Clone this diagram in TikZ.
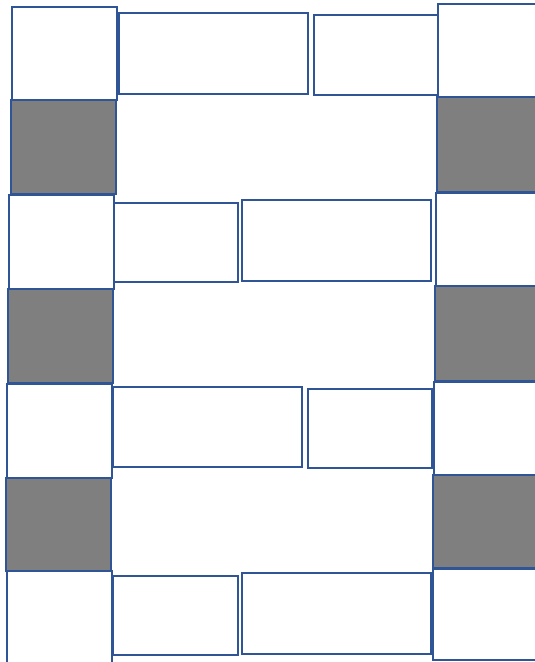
\documentclass[tikz,border=0pt]{standalone}
\usetikzlibrary{positioning}
\definecolor{WallBlue}{HTML}{2F5597}
\definecolor{WallGray}{HTML}{7F7F7F}
\tikzset{
  brick/.style={
    draw=WallBlue,
    fill=white,
    line width=2pt,
    inner sep=0pt,
    outer sep=0pt,
    anchor=north west
  },
  darkbrick/.style={
    brick,
    line width=2.8pt,
    fill=WallGray
  },
  sidebrick/.style={brick,line width=2.8pt,minimum width=105pt},
  longbrick/.style={brick,minimum width=189pt,minimum height=81pt},
  shortbrick/.style={brick,minimum width=124pt,minimum height=80pt}
}

\begin{document}
\begin{tikzpicture}[x=1pt,y=-1pt]
    \useasboundingbox (0,0) rectangle (535,662);
    \clip (0,0) rectangle (535,662);
    % left column
    \node[sidebrick,minimum height=93pt] (left1) at (12,7) {};
    \node[sidebrick,darkbrick,minimum width=105pt,minimum height=94pt] (left2) at (11,100) {};
    \node[sidebrick,minimum height=94pt] (left3) at (9,195) {};
    \node[sidebrick,darkbrick,minimum width=105pt,minimum height=94pt] (left4) at (8,289) {};
    \node[sidebrick,minimum height=94pt] (left5) at (7,384) {};
    \node[sidebrick,darkbrick,minimum width=105pt,minimum height=93pt] (left6) at (6,478) {};
    \node[sidebrick,minimum height=100pt] (left7) at (7,571) {};
    % right column
    \node[sidebrick,minimum width=110pt,minimum height=93pt] (right1) at (438,4) {};
    \node[darkbrick,minimum width=110pt,minimum height=95pt] (right2) at (437,97) {};
    \node[sidebrick,minimum width=110pt,minimum height=93pt] (right3) at (436,193) {};
    \node[darkbrick,minimum width=110pt,minimum height=95pt] (right4) at (435,286) {};
    \node[sidebrick,minimum width=110pt,minimum height=94pt] (right5) at (434,382) {};
    \node[darkbrick,minimum width=110pt,minimum height=93pt] (right6) at (433,475) {};
    \node[sidebrick,minimum width=110pt,minimum height=91pt] (right7) at (433,569) {};
    % middle rows
    \node[longbrick] (row1long) at (119,13) {};
    \node[shortbrick] (row1short) at (314,15) {};
    \node[shortbrick,minimum height=79pt] (row2short) at (114,203) {};
    \node[longbrick] (row2long) at (242,200) {};
    \node[longbrick,minimum height=80pt] (row3long) at (113,387) {};
    \node[shortbrick,minimum height=79pt] (row3short) at (308,389) {};
    \node[shortbrick,minimum width=125pt,minimum height=79pt] (row4short) at (113,576) {};
    \node[longbrick] (row4long) at (242,573) {};
\end{tikzpicture}
\end{document}
